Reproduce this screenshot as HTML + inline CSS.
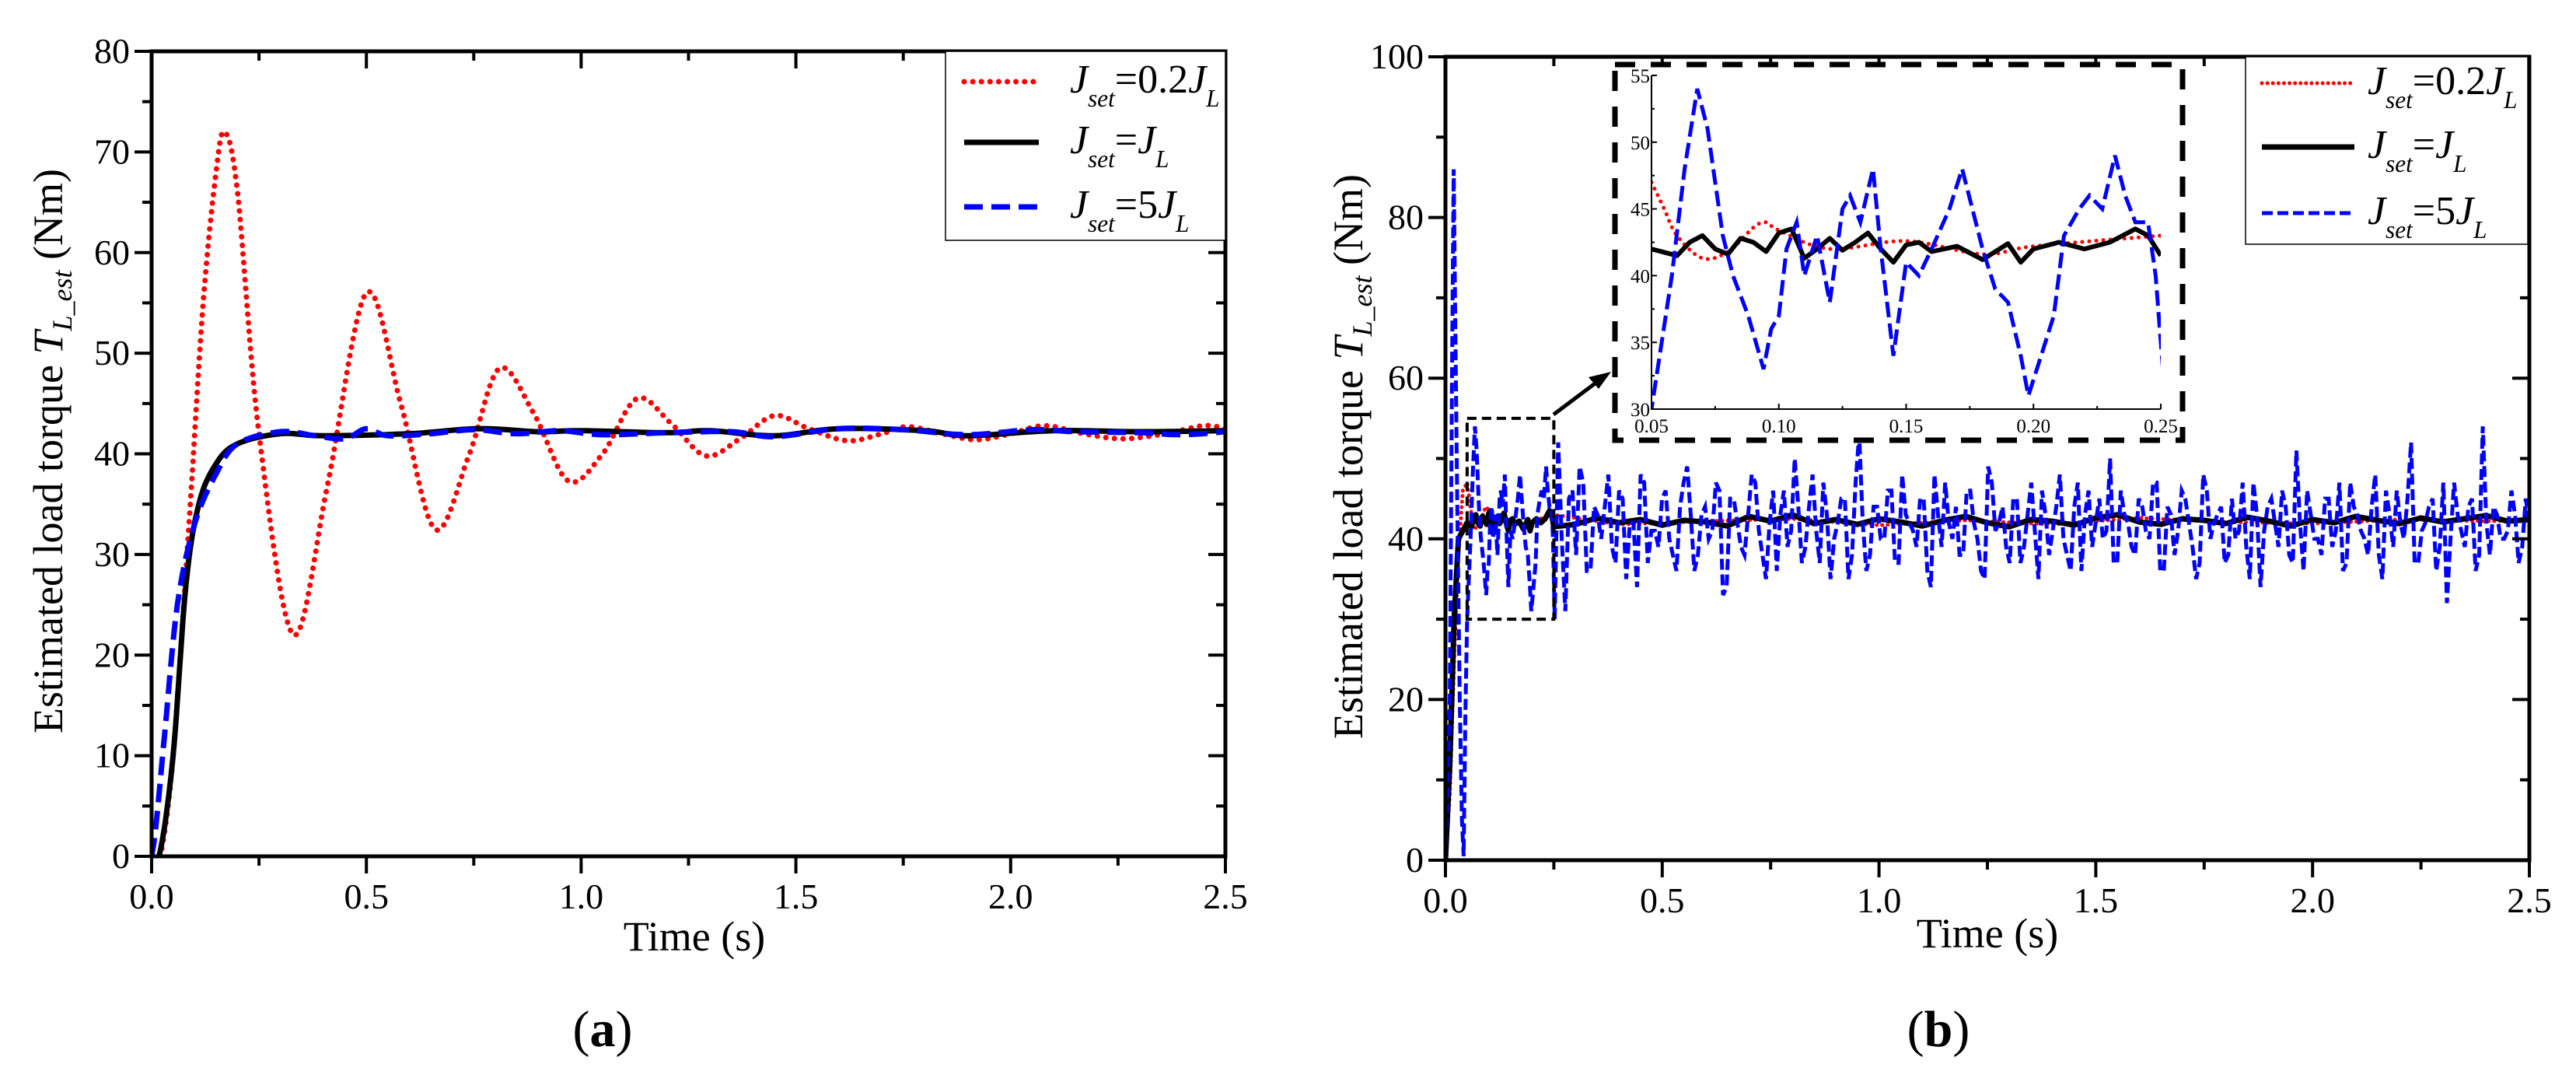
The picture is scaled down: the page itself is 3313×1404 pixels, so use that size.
<!DOCTYPE html>
<html><head><meta charset="utf-8"><style>
html,body{margin:0;padding:0;background:#fff;}
svg, svg text{font-family:"Liberation Serif","Times New Roman",serif;}
</style></head><body>
<svg id="fig" width="3313" height="1399" viewBox="0 0 3313 1399" xmlns="http://www.w3.org/2000/svg" font-family="Liberation Serif, serif"></svg>
<script>
// ---------- Data: panel (a) ----------
const aRedT=[0,0.02,0.05,0.09,0.12,0.15,0.17,0.2,0.25,0.33,0.41,0.5,0.58,0.66,0.74,0.81,0.89,0.97,1.05,1.13,1.21,1.29,1.37,1.45,1.53,1.62,1.7,1.76,1.84,1.92,2.0,2.08,2.17,2.26,2.36,2.45,2.5];
const aRedV=[0,0,10,35,55,68,72,66,42,22,37,56,45,32.5,40,48.5,44,37.3,40,45.5,43,39.8,41.5,43.8,42.5,41.3,42,42.7,42,41.4,42,42.8,42,41.5,42,42.8,42.5];
const aBlkT=[0,0.02,0.05,0.08,0.11,0.15,0.2,0.3,0.4,0.6,0.76,0.9,1.0,1.2,1.3,1.45,1.6,1.8,1.9,2.1,2.3,2.5];
const aBlkV=[0,0.5,10,27,35,39,41,42,41.8,42,42.5,42.2,42.3,42.1,42.3,41.8,42.5,42.3,41.8,42.3,42.2,42.3];
const aBluT=[0,0.01,0.03,0.06,0.1,0.15,0.2,0.3,0.38,0.45,0.5,0.55,0.65,0.75,0.85,0.95,1.05,1.2,1.35,1.45,1.6,1.75,1.9,2.05,2.15,2.3,2.4,2.5];
const aBluV=[0,3,12,25,33,38,41,42.2,41.8,41.5,42.5,41.8,42,42.4,42,42.3,41.9,42.1,42.2,41.7,42.5,42.4,41.9,42.4,42.2,42.1,41.9,42.2];
// ---------- Data: panel (b) ----------
const bRedT=[0,0.01,0.02,0.03,0.04,0.05,0.055,0.06,0.07,0.08,0.09,0.095,0.1,0.12,0.15,0.18,0.2,0.25,0.4,0.6,0.8,1.0,1.2,1.4,1.6,1.8,2.0,2.2,2.4,2.5];
const bRedV=[0,8,25,38,46,47,45,43,41.3,41.8,43.6,44,43.4,42,42.6,41.6,42.2,43,41.8,42.2,42.5,41.7,42.3,41.8,42.6,42.1,41.9,42.4,42.2,42.3];
const bBlkT=[0,0.01,0.02,0.03,0.05,0.06,0.065,0.07,0.075,0.08,0.085,0.09,0.095,0.1,0.105,0.11,0.115,0.12,0.125,0.13,0.135,0.14,0.145,0.15,0.155,0.16,0.17,0.18,0.19,0.195,0.2,0.21,0.22,0.23,0.24,0.245,0.25,0.3,0.35,0.4,0.45,0.5,0.55,0.6,0.65,0.7,0.75,0.8,0.85,0.9,0.95,1.0,1.05,1.1,1.15,1.2,1.25,1.3,1.35,1.4,1.45,1.5,1.55,1.6,1.65,1.7,1.75,1.8,1.85,1.9,1.95,2.0,2.05,2.1,2.15,2.2,2.25,2.3,2.35,2.4,2.45,2.5];
const bBlkV=[0,12,30,40,42,41.5,42.5,43,42,41.6,42.8,42.5,41.8,43.2,43.5,41.3,42,42.8,41.9,42.5,43.2,42,41,42.3,42.5,41.8,42.2,41.2,42.4,41,42,42.5,42,42.5,43.5,43,41.5,41.8,42.6,42,42.4,41.7,42.3,42.1,41.6,42.8,42.2,43,41.9,42.4,41.8,42.5,42.1,41.6,42.3,42.8,42,41.5,42.4,42.2,41.7,42.6,43,42.1,41.8,42.5,42.3,41.9,42.7,42.2,41.6,42.4,42,42.8,42.3,41.9,42.6,42.1,42.5,42.9,42.2,42.4];
const bBluHeadT=[0,0.01,0.015,0.019,0.022,0.027,0.033,0.038,0.042,0.046,0.05,0.058,0.063,0.068,0.072,0.078,0.082,0.088,0.094,0.097,0.1,0.103,0.107,0.11,0.115,0.12,0.125,0.128,0.132,0.137,0.14,0.145,0.15,0.155,0.16,0.167,0.172,0.176,0.18,0.185,0.19,0.195,0.198,0.203,0.208,0.212,0.218,0.222,0.227,0.232,0.236,0.24,0.245,0.248,0.252];
const bBluHeadV=[0,20,60,86,70,45,20,5,0.5,18,30,40,48,54,51,43,40,37,33,36,37,42,44,40,43,38,45,46,44,48,42,34,41,40,42,45,48,45,42,39,38,34,31,34,37,43,45,46,45,49,46,44,44,40,30];
const bBluTailA=[52,31,46,49,36,44,40,48,37,45,42,34,47,41,39,46,38,44,49,36,43,40,47,33,45,42,38,48,41,35,46,43,39,50,37,44,41,47,35,42,45,38,53,36,44,40,46,37,48,42,39,45,34,43,47,40,38,46,42,36,49,41,44,37,45,39,47,35,43,41,48,38,44,36,46,42,40,50,37,43,39,45,41,47,36,44,38,46,42,35,48,40,43,37,45,41,39,47,34,44,42,46,38,51,36,43,40,45,39,47,37,44,41,38,48,35,43,46,40,52,37,42,45,39,32,47,41,44,36,54,38,43,40,46,37,45];
const bBluTailB=[40,45,38,47,36,43,44,39,46,35,42,48,37,41,45,40,36,47,43,38,44,41,46,34,45,39,43,47,38,42,36,46,41,44,39,48,37,43,40,45,35,47,42,38,44,40,46,37,43,41,45,36,48,39,42,44,38,46,40,35,47,42,39,45,37,43,41,46,38,44,40,36,47,43,39,45,41,37,46,42,38,44,40,47,36,43,41,45,39,37,46,42,44,38,40,47,35,43,41,45,39,44,37,42,46,40,38,45,41,36,47,43,40,44,38,46,39,42,45,37,41,44,36,47,40,43,39,45,38,42,44,40,41,43,39,42];
const xTicksMain=["0.0","0.5","1.0","1.5","2.0","2.5"];
const aYTicks=["0","10","20","30","40","50","60","70","80"];
const bYTicks=["0","20","40","60","80","100"];
const insetXTicks=["0.05","0.10","0.15","0.20","0.25"];
const insetYTicks=["30","35","40","45","50","55"];

const NS="http://www.w3.org/2000/svg";
const svg=document.getElementById('fig');
function mk(tag,attrs,parent){const e=document.createElementNS(NS,tag);for(const k in attrs)e.setAttribute(k,attrs[k]);if(tag==='text')e.setAttribute('font-family','Liberation Serif, Times New Roman, serif');(parent||svg).appendChild(e);return e;}

function smooth(T,V,n){const out=[];for(let i=0;i<T.length-1;i++){const p0=i>0?i-1:i,p3=i+2<T.length?i+2:i+1;for(let k=0;k<n;k++){const s=k/n,s2=s*s,s3=s2*s;const f=(a,b,c,d)=>0.5*((2*b)+(-a+c)*s+(2*a-5*b+4*c-d)*s2+(-a+3*b-3*c+d)*s3);out.push([f(T[p0],T[i],T[i+1],T[p3]),f(V[p0],V[i],V[i+1],V[p3])]);}}out.push([T[T.length-1],V[V.length-1]]);return out;}

function axis(x0,x1,y0,y1,xmin,xmax,ymin,ymax){return {sx:t=>x0+(t-xmin)/(xmax-xmin)*(x1-x0),sy:v=>y1-(v-ymin)/(ymax-ymin)*(y1-y0)};}

function drawLine(g,pts,ax,style,name,clip){const d=pts.map((p,i)=>(i?'L':'M')+ax.sx(p[0]).toFixed(1)+' '+ax.sy(p[1]).toFixed(1)).join('');const p=mk('path',Object.assign({d:d,fill:'none'},style,clip?{'clip-path':clip}:{}),g);return p;}

function frame(g,x0,x1,y0,y1,lw){const r=mk('rect',{x:x0,y:y0,width:x1-x0,height:y1-y0,fill:'none',stroke:'#000','stroke-width':lw},g);}

const RED={stroke:'#ff0000','stroke-width':7,'stroke-dasharray':'0.1 11','stroke-linecap':'round'};
const BLK={stroke:'#000','stroke-width':7,'stroke-linejoin':'round'};
const BLU={stroke:'#0000ff','stroke-width':7,'stroke-dasharray':'24 11'};

function legend(g,x0,y0,x1,y1,lx0,lx1,tx,rows,styles,fs){const r=mk('rect',{x:x0,y:y0,width:x1-x0,height:y1-y0,fill:'#fff',stroke:'#000','stroke-width':1.5},g);
 const labels=[['=0.2','J'],['=','J'],['=5','J']];
 rows.forEach((y,i)=>{const e=mk('g',{},g);
  mk('line',Object.assign({x1:lx0,x2:lx1,y1:y,y2:y},styles[i]),e);
  const t=mk('text',{x:tx,y:y+14,'font-size':fs},e);
  t.innerHTML='<tspan font-style="italic">J</tspan><tspan font-style="italic" font-size="'+(fs*0.6)+'" dy="18">set</tspan><tspan dy="-18">'+labels[i][0]+'</tspan><tspan font-style="italic">J</tspan><tspan font-style="italic" font-size="'+(fs*0.6)+'" dy="18">L</tspan>';});}

function ytitle(g,x,y){const t=mk('text',{x:0,y:0,'font-size':54,'text-anchor':'middle',transform:'translate('+x+','+y+') rotate(-90)'},g);
 t.innerHTML='Estimated load torque <tspan font-style="italic">T</tspan><tspan font-style="italic" font-size="36" dy="12">L_est</tspan><tspan dy="-12"> (Nm)</tspan>';}

function ticksMain(g,ax,x0,x1,y0,y1,xLabels,xMax,yLabels,yMin,yMax){
 const tg=mk('g',{stroke:'#000','stroke-width':4},g);
 for(let i=0;i<=10;i++){const t=xMax*i/10,x=ax.sx(t),L=i%2?12:22;mk('line',{x1:x,x2:x,y1:y1,y2:y1+L},tg);mk('line',{x1:x,x2:x,y1:y0,y2:y0+L},tg);}
 const nY=(yLabels.length-1)*2;for(let i=0;i<=nY;i++){const v=yMin+(yMax-yMin)*i/nY,y=ax.sy(v),L=i%2?12:22;mk('line',{x1:x0,x2:x0-L,y1:y,y2:y},tg);mk('line',{x1:x1,x2:x1-L,y1:y,y2:y},tg);}
 xLabels.forEach((s,i)=>{const t=mk('text',{x:ax.sx(xMax*i/(xLabels.length-1)),y:y1+67,'font-size':46,'text-anchor':'middle'},g);t.textContent=s;});
 yLabels.forEach((s,i)=>{const t=mk('text',{x:x0-28,y:ax.sy(yMin+(yMax-yMin)*i/(yLabels.length-1))+15,'font-size':46,'text-anchor':'end'},g);t.textContent=s;});}

mk('defs',{}).innerHTML='<clipPath id="ca"><rect x="195" y="66" width="1381" height="1035"/></clipPath><clipPath id="cb"><rect x="1859" y="73" width="1394" height="1033"/></clipPath><clipPath id="ci"><rect x="2124" y="97" width="655" height="429"/></clipPath>';

// ---------- Panel (a) ----------
{const g=mk('g',{});
 const X0=195,X1=1576,Y0=66,Y1=1101;const ax=axis(X0,X1,Y0,Y1,0,2.5,0,80);
 drawLine(g,smooth(aRedT,aRedV,16),ax,RED,'series-jset-0.2jl','url(#ca)');
 drawLine(g,smooth(aBlkT,aBlkV,12),ax,BLK,'series-jset-jl','url(#ca)');
 drawLine(g,smooth(aBluT,aBluV,12),ax,BLU,'series-jset-5jl','url(#ca)');
 frame(g,X0,X1,Y0,Y1,5);
 ticksMain(g,ax,X0,X1,Y0,Y1,xTicksMain,2.5,aYTicks,0,80);
 legend(g,1216,66,1576,309,1240,1336,1376,[105,183,266],[RED,BLK,BLU],52);
 const xt=mk('text',{x:893,y:1222,'font-size':54,'text-anchor':'middle'},g);xt.textContent='Time (s)';
 ytitle(g,80,580);
 const lab=mk('text',{x:775,y:1345,'font-size':66,'text-anchor':'middle'},g);lab.innerHTML='(<tspan font-weight="bold">a</tspan>)';}

// ---------- Panel (b) ----------
{const g=mk('g',{});
 const X0=1859,X1=3253,Y0=73,Y1=1106;const ax=axis(X0,X1,Y0,Y1,0,2.5,0,100);
 const bluPts=bBluHeadT.map((t,i)=>[t,bBluHeadV[i]]);
 const tail=[];bBluTailA.forEach((v,i)=>{tail.push(v);if(i<bBluTailB.length)tail.push(bBluTailB[i]);});
 const tStart=0.26,tStep=(2.5-tStart)/(tail.length-1);
 tail.forEach((v,i)=>bluPts.push([tStart+i*tStep,v]));
 const thin=s=>Object.assign({},s,{'stroke-width':5,'stroke-dasharray':s===BLU?'14 6':(s===RED?'0.1 7':'none')});
 drawLine(g,bRedT.map((t,i)=>[t,bRedV[i]]),ax,thin(RED),'series-jset-0.2jl','url(#cb)');
 drawLine(g,bBlkT.map((t,i)=>[t,bBlkV[i]]),ax,Object.assign({},BLK,{'stroke-width':7}),'series-jset-jl','url(#cb)');
 drawLine(g,bluPts,ax,thin(BLU),'series-jset-5jl','url(#cb)');
 frame(g,X0,X1,Y0,Y1,5);
 ticksMain(g,ax,X0,X1,Y0,Y1,xTicksMain,2.5,bYTicks,0,100);
 legend(g,2888,73,3251,314,2909,3028,3045,[107,189,274],[thin(RED),BLK,thin(BLU)],52);
 const zr=mk('rect',{x:ax.sx(0.05),y:ax.sy(55),width:ax.sx(0.25)-ax.sx(0.05),height:ax.sy(30)-ax.sy(55),fill:'none',stroke:'#000','stroke-width':4,'stroke-dasharray':'12 7'},g);
 const ar=mk('g',{},g);
 mk('line',{x1:1998,y1:533,x2:2058,y2:488,stroke:'#000','stroke-width':5},ar);
 mk('polygon',{points:'2072,478 2043,485 2056,500',fill:'#000'},ar);
 const ig=mk('g',{},g);
 mk('rect',{x:2077,y:83,width:730,height:483,fill:'#fff',stroke:'none'},ig);
 const IX0=2124,IX1=2779,IY0=97,IY1=526;const ai=axis(IX0,IX1,IY0,IY1,0.05,0.25,30,55);
 const inR=[],inK=[],inB=[];
 bRedT.forEach((t,i)=>{if(t>=0.05&&t<=0.25)inR.push([t,bRedV[i]]);});
 bBlkT.forEach((t,i)=>{if(t>=0.05&&t<=0.25)inK.push([t,bBlkV[i]]);});
 bBluHeadT.forEach((t,i)=>{if(t>=0.046)inB.push([t,bBluHeadV[i]]);});
 drawLine(ig,smooth(inR.map(p=>p[0]),inR.map(p=>p[1]),8),ai,{stroke:'#ff0000','stroke-width':5,'stroke-dasharray':'0.1 9','stroke-linecap':'round',fill:'none'},'inset-series-jset-0.2jl','url(#ci)');
 drawLine(ig,inK,ai,{stroke:'#000','stroke-width':6,'stroke-linejoin':'round'},'inset-series-jset-jl','url(#ci)');
 drawLine(ig,inB,ai,{stroke:'#0000ff','stroke-width':5,'stroke-dasharray':'20 8'},'inset-series-jset-5jl','url(#ci)');
 mk('path',{d:'M'+IX0+' '+IY0+'V'+IY1+'H'+IX1,fill:'none',stroke:'#000','stroke-width':2},ig);
 const itg=mk('g',{stroke:'#000','stroke-width':2},ig);
 for(let i=0;i<=8;i++){const x=ai.sx(0.05+0.025*i);mk('line',{x1:x,x2:x,y1:IY1,y2:IY1-(i%2?4:7)},itg);}
 for(let i=0;i<=10;i++){const y=ai.sy(30+2.5*i);mk('line',{x1:IX0,x2:IX0+(i%2?4:7),y1:y,y2:y},itg);}
 insetXTicks.forEach((s,i)=>{const t=mk('text',{x:ai.sx(0.05+0.05*i),y:IY1+30,'font-size':25,'text-anchor':'middle'},ig);t.textContent=s;});
 insetYTicks.forEach((s,i)=>{const t=mk('text',{x:IX0-2,y:ai.sy(30+5*i)+9,'font-size':25,'text-anchor':'end'},ig);t.textContent=s;});
 const ib=mk('rect',{x:2077,y:83,width:730,height:483,fill:'none',stroke:'#000','stroke-width':7,'stroke-dasharray':'26 20'},ig);
 const xt=mk('text',{x:2556,y:1218,'font-size':54,'text-anchor':'middle'},g);xt.textContent='Time (s)';
 ytitle(g,1752,587);
 const lab=mk('text',{x:2493,y:1345,'font-size':66,'text-anchor':'middle'},g);lab.innerHTML='(<tspan font-weight="bold">b</tspan>)';}
</script>
</body></html>
